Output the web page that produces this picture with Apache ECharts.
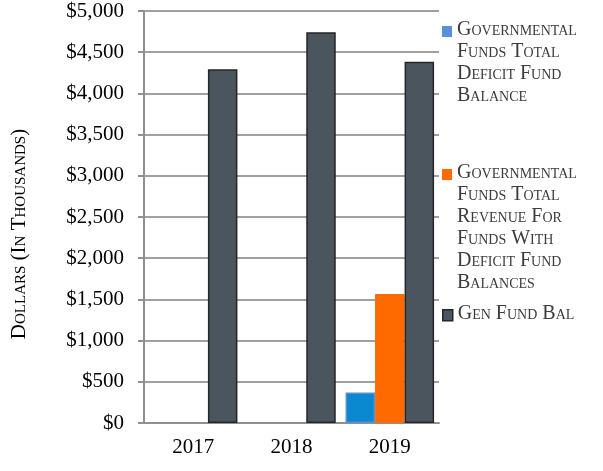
<!DOCTYPE html>
<html>
<head>
<meta charset="utf-8">
<script src="https://cdn.jsdelivr.net/npm/echarts@6/dist/echarts.min.js"></script>
<style>html,body{margin:0;padding:0;background:#fff}#c{width:603px;height:471px}</style>
</head>
<body>
<div id="c"></div>
<script>
const years = ['2017', '2018', '2019'];
const deficitBalance = [null, null, 371];
const deficitRevenue = [null, null, 1565];
const genFundBal = [4294, 4743, 4383];
const seriesNames = [
  'Governmental Funds Total Deficit Fund Balance',
  'Governmental Funds Total Revenue For Funds With Deficit Fund Balances',
  'Gen Fund Bal'
];
const legendLines = {
  [seriesNames[0]]: ['Governmental', 'Funds Total', 'Deficit Fund', 'Balance'],
  [seriesNames[1]]: ['Governmental', 'Funds Total', 'Revenue For', 'Funds With', 'Deficit Fund', 'Balances'],
  [seriesNames[2]]: ['Gen Fund Bal']
};

const serif = '"Liberation Serif", "Times New Roman", serif';
const LINE_H = 22;
const chart = echarts.init(document.getElementById('c'), null, { renderer: 'canvas' });

// Legend swatch sits on the first text line: the icon box spans the whole
// text block, the filled square occupies only its top row.
function topSquareIcon(lines) {
  const h = lines * LINE_H;
  return 'path://M0,0L0,0M0,' + h + 'L0,' + h + 'M0,7L10,7L10,18L0,18Z';
}

function legendAt(name, top, iconStyle) {
  const lines = legendLines[name];
  return {
    data: [{ name: name, icon: topSquareIcon(lines.length) }],
    orient: 'vertical', left: 437, top: top,
    itemWidth: 10, itemHeight: lines.length * LINE_H, itemGap: 0,
    selectedMode: false,
    itemStyle: iconStyle,
    formatter: n => legendLines[n].join('\n'),
    textStyle: { fontFamily: serif, fontSize: 20, fontStyle: 'small-caps', color: '#3c3c3c', lineHeight: LINE_H }
  };
}

chart.setOption({
  animation: false,
  grid: { left: 144, top: 11, right: 164, bottom: 48 },
  legend: [
    legendAt(seriesNames[0], 14, { color: '#5b8fd9', borderWidth: 0 }),
    legendAt(seriesNames[1], 157, { color: '#ff6a00', borderWidth: 0 }),
    legendAt(seriesNames[2], 297, { color: '#4b555d', borderColor: '#262626', borderWidth: 1.5 })
  ],
  xAxis: {
    type: 'category', data: years,
    axisLine: { lineStyle: { color: '#909090', width: 2 } },
    axisTick: { show: false },
    axisLabel: { fontFamily: serif, fontSize: 21, color: '#000', margin: 14 }
  },
  yAxis: {
    type: 'value', min: 0, max: 5000, interval: 500,
    name: 'Dollars (In Thousands)', nameLocation: 'middle', nameGap: 114, nameRotate: 90,
    nameTextStyle: { fontFamily: serif, fontSize: 21, fontStyle: 'small-caps', color: '#000', padding: [0, 34, 0, 0] },
    axisLine: { show: true, lineStyle: { color: '#909090', width: 2 } },
    axisTick: { show: true, length: 6, lineStyle: { color: '#909090', width: 2 } },
    splitLine: { lineStyle: { color: '#a0a0a0', width: 2 } },
    axisLabel: {
      fontFamily: serif, fontSize: 21, color: '#000', margin: 20,
      formatter: v => '$' + v.toLocaleString('en-US')
    }
  },
  series: [
    { name: seriesNames[0], type: 'bar', data: deficitBalance, barGap: '0%', barCategoryGap: '10%',
      itemStyle: { color: '#0a88d0', borderColor: '#5b8fd9', borderWidth: 1.5 } },
    { name: seriesNames[1], type: 'bar', data: deficitRevenue, barGap: '0%', barCategoryGap: '10%',
      itemStyle: { color: '#ff6a00', borderColor: '#ff6a00', borderWidth: 1 } },
    { name: seriesNames[2], type: 'bar', data: genFundBal, barGap: '0%', barCategoryGap: '10%',
      itemStyle: { color: '#4b555d', borderColor: '#262626', borderWidth: 1.5 } }
  ]
});
</script>
</body>
</html>
